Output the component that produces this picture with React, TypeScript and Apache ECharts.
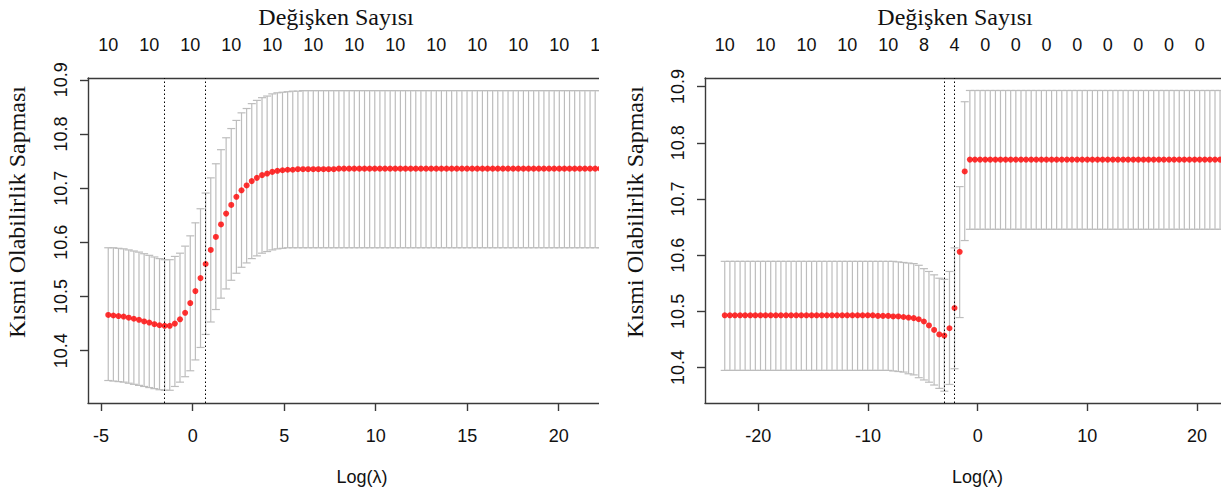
import React, { useEffect, useRef } from "react";
import * as echarts from "echarts";

// ---------- Left panel (ridge) ----------
const leftLogLambda = [
  -4.61, -4.33, -4.05, -3.77, -3.49, -3.21, -2.93, -2.65, -2.37, -2.09,
  -1.81, -1.53, -1.25, -0.97, -0.69, -0.41, -0.13, 0.15, 0.43, 0.71,
  0.99, 1.27, 1.55, 1.83, 2.11, 2.39, 2.67, 2.95, 3.23, 3.51,
  3.79, 4.07, 4.35, 4.63, 4.91, 5.19, 5.47, 5.75, 6.03, 6.31,
  6.59, 6.87, 7.15, 7.43, 7.71, 7.99, 8.27, 8.55, 8.83, 9.11,
  9.39, 9.67, 9.95, 10.23, 10.51, 10.79, 11.07, 11.35, 11.63, 11.91,
  12.19, 12.47, 12.75, 13.03, 13.31, 13.59, 13.87, 14.15, 14.43, 14.71,
  14.99, 15.27, 15.55, 15.83, 16.11, 16.39, 16.67, 16.95, 17.23, 17.51,
  17.79, 18.07, 18.35, 18.63, 18.91, 19.19, 19.47, 19.75, 20.03, 20.31,
  20.59, 20.87, 21.15, 21.43, 21.71, 21.99, 22.27, 22.55, 22.83, 23.11,
];
const leftMean = [
  10.466, 10.465, 10.464, 10.463, 10.461, 10.459, 10.457, 10.454, 10.452, 10.449,
  10.447, 10.446, 10.446, 10.450, 10.458, 10.470, 10.488, 10.510, 10.534, 10.560,
  10.586, 10.610, 10.633, 10.653, 10.669, 10.684, 10.696, 10.705, 10.713, 10.719,
  10.724, 10.727, 10.730, 10.732, 10.733, 10.734, 10.734, 10.735, 10.735, 10.735,
  10.735, 10.735, 10.735, 10.735, 10.735, 10.736, 10.736, 10.736, 10.736, 10.736,
  10.736, 10.736, 10.736, 10.736, 10.736, 10.736, 10.736, 10.736, 10.736, 10.736,
  10.736, 10.736, 10.736, 10.736, 10.736, 10.736, 10.736, 10.736, 10.736, 10.736,
  10.736, 10.736, 10.736, 10.736, 10.736, 10.736, 10.736, 10.736, 10.736, 10.736,
  10.736, 10.736, 10.736, 10.736, 10.736, 10.736, 10.736, 10.736, 10.736, 10.736,
  10.736, 10.736, 10.736, 10.736, 10.736, 10.736, 10.736, 10.736, 10.736, 10.736,
];
const leftUpper = [
  10.590, 10.590, 10.589, 10.588, 10.586, 10.584, 10.582, 10.579, 10.576, 10.573,
  10.570, 10.568, 10.568, 10.574, 10.580, 10.593, 10.612, 10.636, 10.662, 10.691,
  10.719, 10.745, 10.771, 10.793, 10.810, 10.825, 10.839, 10.847, 10.856, 10.862,
  10.867, 10.870, 10.874, 10.876, 10.877, 10.878, 10.879, 10.879, 10.880, 10.880,
  10.880, 10.880, 10.880, 10.880, 10.880, 10.880, 10.880, 10.880, 10.880, 10.880,
  10.880, 10.880, 10.880, 10.880, 10.880, 10.880, 10.880, 10.880, 10.880, 10.880,
  10.880, 10.880, 10.880, 10.880, 10.880, 10.880, 10.880, 10.880, 10.880, 10.880,
  10.880, 10.880, 10.880, 10.880, 10.880, 10.880, 10.880, 10.880, 10.880, 10.880,
  10.880, 10.880, 10.880, 10.880, 10.880, 10.880, 10.880, 10.880, 10.880, 10.880,
  10.880, 10.880, 10.880, 10.880, 10.880, 10.880, 10.880, 10.880, 10.880, 10.880,
];
const leftLower = [
  10.345, 10.344, 10.343, 10.342, 10.340, 10.338, 10.336, 10.334, 10.332, 10.330,
  10.328, 10.327, 10.327, 10.334, 10.342, 10.352, 10.363, 10.383, 10.406, 10.430,
  10.453, 10.476, 10.497, 10.514, 10.530, 10.543, 10.554, 10.562, 10.570, 10.575,
  10.580, 10.583, 10.586, 10.588, 10.589, 10.590, 10.590, 10.590, 10.590, 10.590,
  10.590, 10.590, 10.590, 10.590, 10.590, 10.590, 10.590, 10.590, 10.590, 10.590,
  10.590, 10.590, 10.590, 10.590, 10.590, 10.590, 10.590, 10.590, 10.590, 10.590,
  10.590, 10.590, 10.590, 10.590, 10.590, 10.590, 10.590, 10.590, 10.590, 10.590,
  10.590, 10.590, 10.590, 10.590, 10.590, 10.590, 10.590, 10.590, 10.590, 10.590,
  10.590, 10.590, 10.590, 10.590, 10.590, 10.590, 10.590, 10.590, 10.590, 10.590,
  10.590, 10.590, 10.590, 10.590, 10.590, 10.590, 10.590, 10.590, 10.590, 10.590,
];
const leftCountIdx = [0, 8, 16, 24, 32, 40, 48, 56, 64, 72, 80, 88, 96];
const leftCountLabels = ["10", "10", "10", "10", "10", "10", "10", "10", "10", "10", "10", "10", "10"];
const leftXTicks = [-5, 0, 5, 10, 15, 20];
const leftMinIdx = 11;
const left1seIdx = 19;

// ---------- Right panel (lasso) ----------
const rightLogLambda = [
  -23.06, -22.59, -22.13, -21.66, -21.20, -20.73, -20.27, -19.80, -19.34, -18.87,
  -18.40, -17.94, -17.47, -17.01, -16.54, -16.08, -15.61, -15.14, -14.68, -14.21,
  -13.75, -13.28, -12.82, -12.35, -11.89, -11.42, -10.95, -10.49, -10.02, -9.56,
  -9.09, -8.63, -8.16, -7.70, -7.23, -6.76, -6.30, -5.83, -5.37, -4.90,
  -4.44, -3.97, -3.50, -3.04, -2.57, -2.11, -1.64, -1.18, -0.71, -0.25,
  0.22, 0.69, 1.15, 1.62, 2.08, 2.55, 3.01, 3.48, 3.95, 4.41,
  4.88, 5.34, 5.81, 6.27, 6.74, 7.20, 7.67, 8.14, 8.60, 9.07,
  9.53, 10.00, 10.46, 10.93, 11.39, 11.86, 12.33, 12.79, 13.26, 13.72,
  14.19, 14.65, 15.12, 15.58, 16.05, 16.52, 16.98, 17.45, 17.91, 18.38,
  18.84, 19.31, 19.78, 20.24, 20.71, 21.17, 21.64, 22.10, 22.57, 23.03,
];
const rightMean = [
  10.493, 10.493, 10.493, 10.493, 10.493, 10.493, 10.493, 10.493, 10.493, 10.493,
  10.493, 10.493, 10.493, 10.493, 10.493, 10.493, 10.493, 10.493, 10.493, 10.493,
  10.493, 10.493, 10.493, 10.493, 10.493, 10.493, 10.493, 10.493, 10.493, 10.493,
  10.492, 10.492, 10.492, 10.491, 10.491, 10.490, 10.489, 10.488, 10.486, 10.482,
  10.475, 10.467, 10.459, 10.457, 10.470, 10.506, 10.606, 10.749, 10.770, 10.770,
  10.770, 10.770, 10.770, 10.770, 10.770, 10.770, 10.770, 10.770, 10.770, 10.770,
  10.770, 10.770, 10.770, 10.770, 10.770, 10.770, 10.770, 10.770, 10.770, 10.770,
  10.770, 10.770, 10.770, 10.770, 10.770, 10.770, 10.770, 10.770, 10.770, 10.770,
  10.770, 10.770, 10.770, 10.770, 10.770, 10.770, 10.770, 10.770, 10.770, 10.770,
  10.770, 10.770, 10.770, 10.770, 10.770, 10.770, 10.770, 10.770, 10.770, 10.770,
];
const rightUpper = [
  10.589, 10.589, 10.589, 10.589, 10.589, 10.589, 10.589, 10.589, 10.589, 10.589,
  10.589, 10.589, 10.589, 10.589, 10.589, 10.589, 10.589, 10.589, 10.589, 10.589,
  10.589, 10.589, 10.589, 10.589, 10.589, 10.589, 10.589, 10.589, 10.589, 10.589,
  10.589, 10.589, 10.589, 10.589, 10.588, 10.587, 10.586, 10.585, 10.582, 10.576,
  10.571, 10.565, 10.559, 10.557, 10.571, 10.613, 10.722, 10.873, 10.893, 10.893,
  10.893, 10.893, 10.893, 10.893, 10.893, 10.893, 10.893, 10.893, 10.893, 10.893,
  10.893, 10.893, 10.893, 10.893, 10.893, 10.893, 10.893, 10.893, 10.893, 10.893,
  10.893, 10.893, 10.893, 10.893, 10.893, 10.893, 10.893, 10.893, 10.893, 10.893,
  10.893, 10.893, 10.893, 10.893, 10.893, 10.893, 10.893, 10.893, 10.893, 10.893,
  10.893, 10.893, 10.893, 10.893, 10.893, 10.893, 10.893, 10.893, 10.893, 10.893,
];
const rightLower = [
  10.395, 10.395, 10.395, 10.395, 10.395, 10.395, 10.395, 10.395, 10.395, 10.395,
  10.395, 10.395, 10.395, 10.395, 10.395, 10.395, 10.395, 10.395, 10.395, 10.395,
  10.395, 10.395, 10.395, 10.395, 10.395, 10.395, 10.395, 10.395, 10.395, 10.395,
  10.395, 10.395, 10.395, 10.394, 10.393, 10.392, 10.389, 10.387, 10.382, 10.378,
  10.374, 10.369, 10.363, 10.358, 10.370, 10.398, 10.489, 10.626, 10.646, 10.646,
  10.646, 10.646, 10.646, 10.646, 10.646, 10.646, 10.646, 10.646, 10.646, 10.646,
  10.646, 10.646, 10.646, 10.646, 10.646, 10.646, 10.646, 10.646, 10.646, 10.646,
  10.646, 10.646, 10.646, 10.646, 10.646, 10.646, 10.646, 10.646, 10.646, 10.646,
  10.646, 10.646, 10.646, 10.646, 10.646, 10.646, 10.646, 10.646, 10.646, 10.646,
  10.646, 10.646, 10.646, 10.646, 10.646, 10.646, 10.646, 10.646, 10.646, 10.646,
];
const rightCountIdx = [0, 8, 16, 24, 32, 39, 45, 51, 57, 63, 69, 75, 81, 87, 93];
const rightCountLabels = ["10", "10", "10", "10", "10", "8", "4", "0", "0", "0", "0", "0", "0", "0", "0"];
const rightXTicks = [-20, -10, 0, 10, 20];
const rightMinIdx = 43;
const right1seIdx = 45;

const yTicks = [10.4, 10.5, 10.6, 10.7, 10.8, 10.9];

const TITLE_TOP = "Değişken Sayısı";
const TITLE_Y = "Kısmi Olabilirlik Sapması";
const TITLE_X = "Log(λ)";

const SANS = "'Liberation Sans', Arial, sans-serif";
const SERIF = "'Liberation Serif', 'Times New Roman', serif";

type Panel = {
  logLambda: number[];
  mean: number[];
  upper: number[];
  lower: number[];
  countIdx: number[];
  countLabels: string[];
  xTicks: number[];
  minIdx: number;
  seIdx: number;
  grid: { left: number; top: number; width: number; height: number };
  xMin: number;
  xMax: number;
  yMin: number;
  yMax: number;
  yTitleX: number;
  topTitleX: number;
  xTitleX: number;
};

function buildOption(p: Panel) {
  const errData = p.logLambda.map((x, i) => [x, p.lower[i], p.upper[i]]);
  const ptData = p.logLambda.map((x, i) => [x, p.mean[i]]);
  const topVals = p.countIdx.map((i) => p.logLambda[i]);
  const fmtTop = (v: number) => {
    let best = 0;
    let bd = Infinity;
    topVals.forEach((t, k) => {
      const d = Math.abs(t - v);
      if (d < bd) {
        bd = d;
        best = k;
      }
    });
    return p.countLabels[best];
  };
  const axisLine = { color: "#3a3a3a", width: 1.4 };
  const tickFont = { fontFamily: SANS, fontSize: 18, color: "#111" };
  const barStyle = { stroke: "#bdbdbd", lineWidth: 1.2 };
  const hw = 4;

  return {
    animation: false,
    grid: { ...p.grid, show: false },
    xAxis: [
      {
        type: "value",
        position: "bottom",
        min: p.xMin,
        max: p.xMax,
        axisLine: { show: true, onZero: false, lineStyle: axisLine },
        axisTick: { show: true, length: 8, customValues: p.xTicks, lineStyle: axisLine },
        axisLabel: { customValues: p.xTicks, margin: 24, ...tickFont, formatter: (v: number) => String(v) },
        splitLine: { show: false },
      },
      {
        type: "value",
        position: "top",
        min: p.xMin,
        max: p.xMax,
        axisLine: { show: true, onZero: false, lineStyle: axisLine },
        axisTick: { show: false },
        axisLabel: { customValues: topVals, margin: 24, ...tickFont, formatter: fmtTop },
        splitLine: { show: false },
      },
    ],
    yAxis: {
      type: "value",
      min: p.yMin,
      max: p.yMax,
      axisLine: { show: true, onZero: false, lineStyle: axisLine },
      axisTick: { show: true, length: 8, customValues: yTicks, lineStyle: axisLine },
      axisLabel: {
        customValues: yTicks,
        rotate: 90,
        margin: 18,
        ...tickFont,
        formatter: (v: number) => v.toFixed(1),
      },
      splitLine: { show: false },
    },
    series: [
      {
        type: "custom",
        xAxisIndex: 0,
        silent: true,
        z: 1,
        data: errData,
        encode: { x: 0, y: [1, 2] },
        renderItem: (_params: any, api: any) => {
          const x = api.value(0);
          const top = api.coord([x, api.value(2)]);
          const bot = api.coord([x, api.value(1)]);
          return {
            type: "group",
            children: [
              { type: "line", shape: { x1: top[0], y1: top[1], x2: bot[0], y2: bot[1] }, style: barStyle },
              { type: "line", shape: { x1: top[0] - hw, y1: top[1], x2: top[0] + hw, y2: top[1] }, style: barStyle },
              { type: "line", shape: { x1: bot[0] - hw, y1: bot[1], x2: bot[0] + hw, y2: bot[1] }, style: barStyle },
            ],
          };
        },
      },
      {
        type: "scatter",
        xAxisIndex: 0,
        silent: true,
        z: 3,
        data: ptData,
        symbol: "circle",
        symbolSize: 6,
        itemStyle: { color: "#ff0000" },
        markLine: {
          silent: true,
          symbol: ["none", "none"],
          label: { show: false },
          lineStyle: { type: [1.5, 2.5], color: "#000", width: 1 },
          data: [{ xAxis: p.logLambda[p.minIdx] }, { xAxis: p.logLambda[p.seIdx] }],
        },
      },
    ],
    graphic: [
      {
        type: "text",
        x: p.topTitleX,
        y: 17,
        style: { text: TITLE_TOP, fontFamily: SERIF, fontSize: 24, fill: "#111", align: "center", verticalAlign: "middle" },
      },
      {
        type: "text",
        x: p.yTitleX,
        y: 212,
        rotation: Math.PI / 2,
        style: { text: TITLE_Y, fontFamily: SERIF, fontSize: 24, fill: "#111", align: "center", verticalAlign: "middle" },
      },
      {
        type: "text",
        x: p.xTitleX,
        y: 477,
        style: { text: TITLE_X, fontFamily: SANS, fontSize: 18, fill: "#111", align: "center", verticalAlign: "middle" },
      },
    ],
  };
}

const leftPanel: Panel = {
  logLambda: leftLogLambda,
  mean: leftMean,
  upper: leftUpper,
  lower: leftLower,
  countIdx: leftCountIdx,
  countLabels: leftCountLabels,
  xTicks: leftXTicks,
  minIdx: leftMinIdx,
  seIdx: left1seIdx,
  grid: { left: 88, top: 78, width: 548, height: 325 },
  xMin: -5.716,
  xMax: 24.22,
  yMin: 10.3035,
  yMax: 10.9033,
  yTitleX: 17,
  topTitleX: 336,
  xTitleX: 362,
};

const rightPanel: Panel = {
  logLambda: rightLogLambda,
  mean: rightMean,
  upper: rightUpper,
  lower: rightLower,
  countIdx: rightCountIdx,
  countLabels: rightCountLabels,
  xTicks: rightXTicks,
  minIdx: rightMinIdx,
  seIdx: right1seIdx,
  grid: { left: 105, top: 78, width: 545, height: 325 },
  xMin: -24.86,
  xMax: 24.83,
  yMin: 10.337,
  yMax: 10.9152,
  yTitleX: 35,
  topTitleX: 355,
  xTitleX: 377.5,
};

// Each panel is a wide chart shown through a narrower clipping window,
// as in the reference where both panels are cut at their right edge.
function PanelChart({ panel, left, clipWidth }: { panel: Panel; left: number; clipWidth: number }) {
  const ref = useRef<HTMLDivElement>(null);
  useEffect(() => {
    if (!ref.current) return;
    const chart = echarts.init(ref.current, undefined, { renderer: "svg" });
    chart.setOption(buildOption(panel) as any);
    return () => chart.dispose();
  }, [panel]);
  return (
    <div style={{ position: "absolute", left, top: 0, width: clipWidth, height: 496, overflow: "hidden" }}>
      <div ref={ref} style={{ position: "absolute", left: 0, top: 0, width: 720, height: 496 }} />
    </div>
  );
}

export default function App() {
  return (
    <div style={{ position: "fixed", left: 0, top: 0, width: 1221, height: 496, background: "#fff", overflow: "hidden" }}>
      <PanelChart panel={leftPanel} left={0} clipWidth={599} />
      <PanelChart panel={rightPanel} left={600} clipWidth={621} />
    </div>
  );
}
